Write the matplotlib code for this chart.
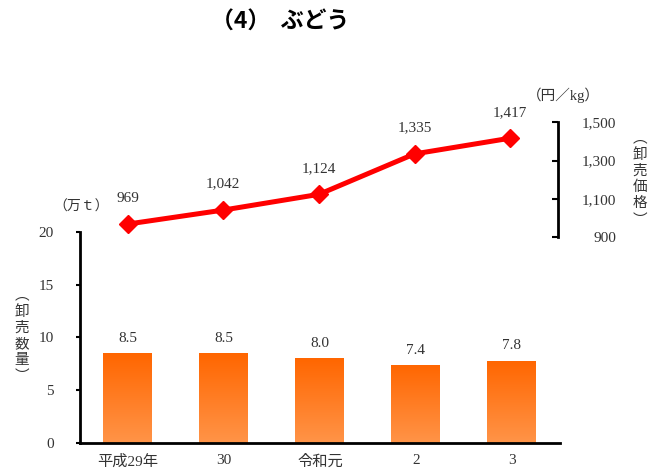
import numpy as np
import matplotlib
matplotlib.use("Agg")
import matplotlib.pyplot as plt

plt.rcParams['font.family'] = ['Liberation Serif', 'Noto Sans CJK JP']

years = ['平成29年', '30', '令和元', '2', '3']
volume = [8.5, 8.5, 8.0, 7.4, 7.8]
price = [969, 1042, 1124, 1335, 1417]
vol_ticks = [0, 5, 10, 15, 20]
price_ticks = [900, 1100, 1300, 1500]

fig = plt.figure(figsize=(6.62, 4.76), dpi=100)

# bar panel (volume)
ax = fig.add_axes([0.1208, 0.0693, 0.725, 0.4439])
xs = np.arange(len(years))
bars = ax.bar(xs, volume, width=0.51, color='none', edgecolor='none')
grad = np.linspace(0, 1, 256).reshape(-1, 1)
cmap = matplotlib.colors.LinearSegmentedColormap.from_list('og', ['#ff9448', '#ff6600'])
for b in bars:
    im = ax.imshow(grad, cmap=cmap, origin='lower', aspect='auto',
                   extent=[b.get_x(), b.get_x() + b.get_width(), 0, b.get_height()], zorder=2)
    im.set_clip_path(b)
for x, v in zip(xs, volume):
    ax.annotate(f'{v:.1f}', (x, v), xytext=(0, 6), textcoords='offset points',
                ha='center', va='bottom', fontsize=11, color='#333333')
ax.set_xlim(-0.5, len(years) - 0.5)
ax.set_ylim(0, 20)
ax.set_yticks(vol_ticks)
ax.set_xticks(xs)
ax.set_xticklabels(years)
ax.tick_params(axis='x', length=0, pad=8, labelsize=11, labelcolor='#333333')
ax.tick_params(axis='y', length=3, width=1.5, direction='out', labelsize=11,
               labelcolor='#333333', pad=16)
for s in ['top', 'right']:
    ax.spines[s].set_visible(False)
ax.spines['left'].set_linewidth(2)
ax.spines['bottom'].set_linewidth(2)

# line panel (price)
ax2 = fig.add_axes([0.1208, 0.5015, 0.722, 0.2416])
ax2.plot(xs, price, color='#ff0000', lw=3.6, marker='D', ms=9, clip_on=False, zorder=3)
for x, p in zip(xs, price):
    ax2.annotate(f'{p:,}', (x, p), xytext=(0, 14), textcoords='offset points',
                 ha='center', va='bottom', fontsize=11, color='#333333')
ax2.set_xlim(-0.5, len(years) - 0.5)
ax2.set_ylim(900, 1500)
ax2.set_yticks(price_ticks)
ax2.set_yticklabels([f'{p:,}' for p in price_ticks])
ax2.yaxis.tick_right()
ax2.tick_params(axis='y', direction='in', length=4, width=1.5, labelsize=11,
                labelcolor='#333333', pad=42)
for lab in ax2.get_yticklabels():
    lab.set_horizontalalignment('right')
ax2.set_xticks([])
ax2.patch.set_visible(False)
for s in ['top', 'left', 'bottom']:
    ax2.spines[s].set_visible(False)
ax2.spines['right'].set_linewidth(2)

# texts
fig.text(280 / 662, 0.953, '（4）  ぶどう', ha='center', va='center', fontsize=16.5,
         family=['Noto Sans CJK JP'], weight='bold')
fig.text(81 / 662, 1 - 207 / 476, '（万ｔ）', ha='center', va='center', fontsize=10,
         color='#333333')
fig.text(563 / 662, 1 - 95 / 476, '（円／kg）', ha='center', va='center', fontsize=10.5,
         color='#333333')
fig.text(22 / 662, 1 - 336 / 476, '︵\n卸\n売\n数\n量\n︶', ha='center', va='center',
         fontsize=10.5, linespacing=1.2, color='#333333', family=['Noto Sans CJK JP'])
fig.text(640 / 662, 1 - 179 / 476, '︵\n卸\n売\n価\n格\n︶', ha='center', va='center',
         fontsize=10.5, linespacing=1.2, color='#333333', family=['Noto Sans CJK JP'])

fig.savefig('out.png', dpi=100)
